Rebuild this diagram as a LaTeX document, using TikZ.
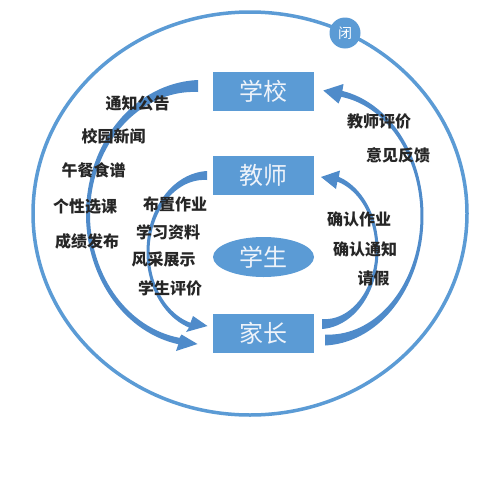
\documentclass[tikz,border=0pt]{standalone}
\usepackage{fontspec}
\usetikzlibrary{shapes.geometric}
\newfontfamily\cjk{Noto Sans CJK SC}
\definecolor{boxblue}{HTML}{5B9BD5}
\definecolor{arrowblue}{HTML}{4F8BCA}
\definecolor{ringblue}{HTML}{5B9BD5}
\definecolor{boxtext}{HTML}{EEF3FA}
\begin{document}
\begin{tikzpicture}[x=1pt,y=-1pt,
  boxnode/.style={fill=boxblue, minimum width=101pt, minimum height=39pt, inner sep=0pt, text=boxtext, font=\cjk\fontsize{24}{24}\selectfont},
  lbl/.style={font=\cjk\bfseries\fontsize{16}{16}\selectfont, text=black!85, inner sep=0pt},
  arrowshape/.style={fill=arrowblue},
  ring/.style={draw=ringblue, line width=3.5pt},
  declare function={
    wlo(\t)=(\t>180) ? (4+8*((\t-180)/90)*((\t-180)/90)) : (4+2.5*((180-\t)/80)*((180-\t)/80));
    wli(\t)=(\t>180) ? (3+6*((\t-180)/90)*((\t-180)/90)) : (3+2*((180-\t)/73)*((180-\t)/73));
    wro(\t)=(\t>0) ? (3+8*(\t/90)*(\t/90)) : (3+3*(\t/80)*(\t/80));
    wri(\t)=(\t>0) ? (3+7*(\t/90)*(\t/90)) : (3+2*(\t/73)*(\t/73));
  }]
\useasboundingbox (0,0) rectangle (500,482);
\fill[white] (0,0) rectangle (500,482);

% outer ring
\draw[ring] (250,213.5) ellipse [x radius=217, y radius=201.5];
\node[circle, fill=boxblue, minimum size=31pt, inner sep=0pt, text=white, font=\cjk\fontsize{14}{14}\selectfont] (bi) at (345,33) {闭};

% boxes
\node[boxnode] (school) at (263.5,91.5) {学校};
\node[boxnode] (teacher) at (263.5,175.5) {教师};
\node[boxnode] (parent) at (263.5,333.5) {家长};
\node[boxnode, ellipse, minimum width=101pt, minimum height=40pt] (student) at (263.5,257) {学生};

% left outer arrow (school -> parent)
\fill[arrowshape]
  plot[variable=\t, domain=270:100, samples=70] ({198+(110+wlo(\t)/2)*cos(\t)}, {214.5+(128.5+wlo(\t)/2)*sin(\t)})
  -- (176,351) -- (197.5,344) -- (181.5,334.5)
  -- plot[variable=\t, domain=100:270, samples=70] ({198+(110-wlo(\t)/2)*cos(\t)}, {214.5+(128.5-wlo(\t)/2)*sin(\t)})
  -- cycle;

% left inner arrow (teacher -> parent)
\fill[arrowshape]
  plot[variable=\t, domain=270:107, samples=60] ({207+(59+wli(\t)/2)*cos(\t)}, {252+(76.5+wli(\t)/2)*sin(\t)})
  -- (186,332) -- (207.5,326) -- (193,316)
  -- plot[variable=\t, domain=107:270, samples=60] ({207+(59-wli(\t)/2)*cos(\t)}, {252+(76.5-wli(\t)/2)*sin(\t)})
  -- cycle;

% right outer arrow (parent -> school)
\fill[arrowshape]
  plot[variable=\t, domain=90:-80, samples=70] ({325+(97+wro(\t)/2)*cos(\t)}, {216+(124+wro(\t)/2)*sin(\t)})
  -- (343.5,84) -- (323.3,90.5) -- (338.5,103.5)
  -- plot[variable=\t, domain=-80:90, samples=70] ({325+(97-wro(\t)/2)*cos(\t)}, {216+(124-wro(\t)/2)*sin(\t)})
  -- cycle;

% right inner arrow (parent -> teacher)
\fill[arrowshape]
  plot[variable=\t, domain=90:-73, samples=60] ({322+(55+wri(\t)/2)*cos(\t)}, {250+(74+wri(\t)/2)*sin(\t)})
  -- (340,170.5) -- (321,177) -- (336,189)
  -- plot[variable=\t, domain=-73:90, samples=60] ({322+(55-wri(\t)/2)*cos(\t)}, {250+(74-wri(\t)/2)*sin(\t)})
  -- cycle;

% labels
\node[lbl] (l1) at (137.5,103.5) {通知公告};
\node[lbl] (l2) at (113.5,136) {校园新闻};
\node[lbl] (l3) at (93.5,170) {午餐食谱};
\node[lbl] (l4) at (85,206.5) {个性选课};
\node[lbl] (l5) at (87,241.5) {成绩发布};
\node[lbl] (l6) at (175,204) {布置作业};
\node[lbl] (l7) at (168,232) {学习资料};
\node[lbl] (l8) at (163.5,259) {风采展示};
\node[lbl] (l9) at (170,288) {学生评价};
\node[lbl] (r1) at (379,121.5) {教师评价};
\node[lbl] (r2) at (398,155) {意见反馈};
\node[lbl] (r3) at (359,219) {确认作业};
\node[lbl] (r4) at (365,249) {确认通知};
\node[lbl] (r5) at (373.5,278) {请假};
\end{tikzpicture}
\end{document}
